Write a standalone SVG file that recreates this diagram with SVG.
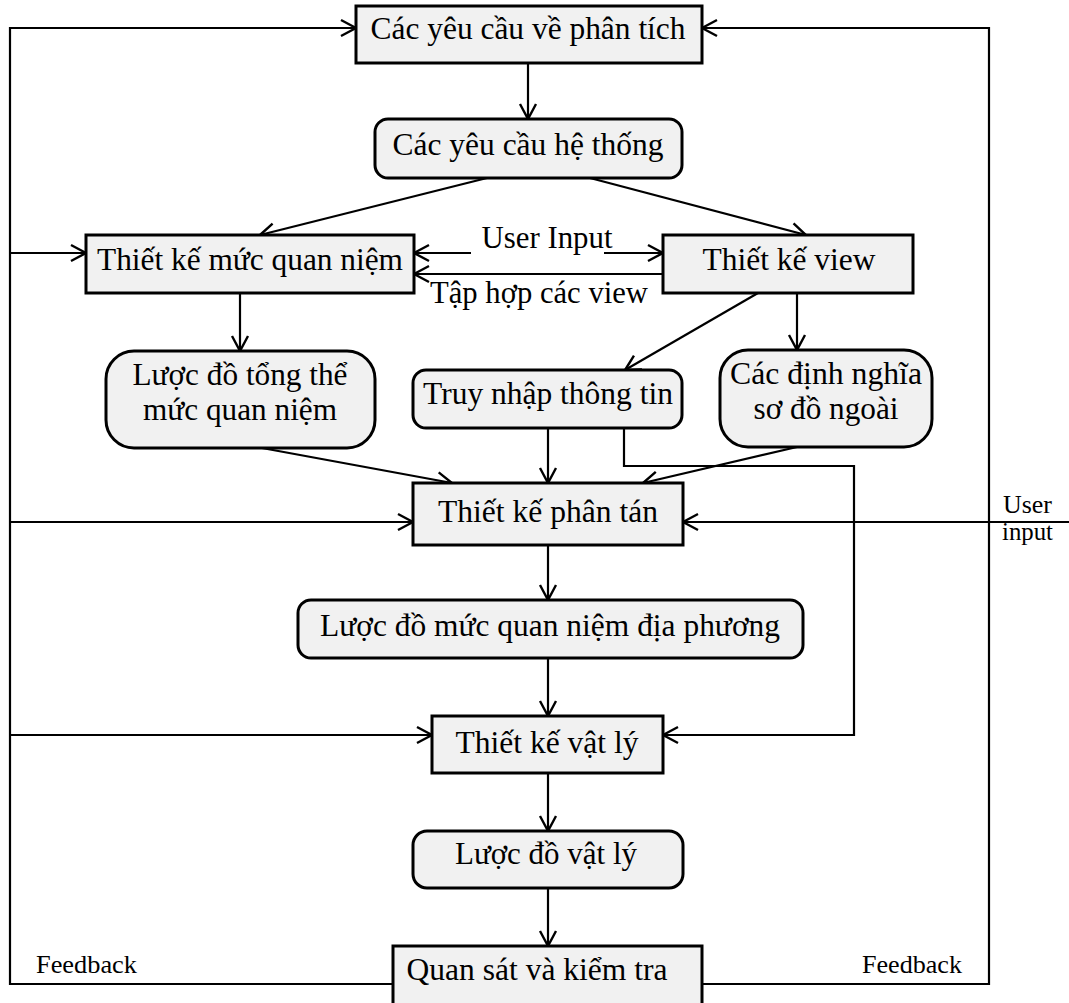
<svg xmlns="http://www.w3.org/2000/svg" width="1069" height="1003" viewBox="0 0 1069 1003">
  <style>
    .box { fill: #f1f1f1; stroke: #000; stroke-width: 3; }
    .lbl { font-family: "Liberation Serif", "DejaVu Serif", serif; font-size: 32px; fill: #000; text-anchor: middle; }
    .small { font-family: "Liberation Serif", "DejaVu Serif", serif; font-size: 25px; fill: #000; }
    .conn { fill: none; stroke: #000; stroke-width: 2.2; }
    .arr { marker-end: url(#head); }
  </style>
  <defs>
    <marker id="head" markerUnits="userSpaceOnUse" markerWidth="20" markerHeight="20" viewBox="0 0 20 20" refX="18" refY="10" orient="auto">
      <path d="M3,2 L18,10 L3,18" fill="none" stroke="#000" stroke-width="2.4"/>
    </marker>
  </defs>

  <rect width="1069" height="1003" fill="#fff"/>

  <!-- connectors -->
  <g id="connectors">
    <!-- feedback loop, left side -->
    <path class="conn arr" d="M393,984 L10,984 L10,28 L356,28"/>
    <path class="conn arr" d="M10,253 L86,253"/>
    <path class="conn arr" d="M10,522 L413,522"/>
    <path class="conn arr" d="M10,735 L432,735"/>
    <!-- feedback loop, right side -->
    <path class="conn arr" d="M702,984 L989,984 L989,28 L702,28"/>
    <!-- user input on the right -->
    <path class="conn arr" d="M1069,522 L683,522"/>

    <!-- main flow -->
    <path class="conn arr" d="M528,63 L528,119"/>
    <path class="conn arr" d="M487,178 L260,235"/>
    <path class="conn arr" d="M590,178 L806,235"/>
    <path class="conn arr" d="M240,293 L240,351"/>
    <path class="conn arr" d="M797,293 L797,350"/>
    <path class="conn arr" d="M758,293 L625,370"/>
    <path class="conn arr" d="M471,253 L414,253"/>
    <path class="conn arr" d="M604,253 L663,253"/>
    <path class="conn arr" d="M663,274 L414,274"/>
    <path class="conn arr" d="M262,448 L452,483"/>
    <path class="conn arr" d="M548,428 L548,483"/>
    <path class="conn arr" d="M797,447 L643,483"/>
    <path class="conn arr" d="M624,428 L624,466 L854,466 L854,735 L663,735"/>
    <path class="conn arr" d="M548,545 L548,600"/>
    <path class="conn arr" d="M548,658 L548,716"/>
    <path class="conn arr" d="M548,773 L548,831"/>
    <path class="conn arr" d="M548,888 L548,946"/>

    <!-- connector labels -->
    <text class="lbl" x="547" y="248" textLength="131" lengthAdjust="spacingAndGlyphs">User Input</text>
    <text class="lbl" x="539" y="303" textLength="218" lengthAdjust="spacingAndGlyphs">Tập hợp các view</text>
    <text class="small" x="36" y="973" textLength="101" lengthAdjust="spacingAndGlyphs">Feedback</text>
    <text class="small" x="862" y="973" textLength="100" lengthAdjust="spacingAndGlyphs">Feedback</text>
    <text class="small" x="1003" y="513" textLength="49" lengthAdjust="spacingAndGlyphs">User</text>
    <text class="small" x="1002" y="540" textLength="51" lengthAdjust="spacingAndGlyphs">input</text>
  </g>

  <!-- nodes -->
  <g id="yeu-cau-phan-tich">
    <rect class="box" x="356" y="6" width="346" height="57"/>
    <text class="lbl" x="528" y="39" textLength="315" lengthAdjust="spacingAndGlyphs">Các yêu cầu về phân tích</text>
  </g>
  <g id="yeu-cau-he-thong">
    <rect class="box" x="375" y="119" width="307" height="59" rx="13"/>
    <text class="lbl" x="528" y="155" textLength="271" lengthAdjust="spacingAndGlyphs">Các yêu cầu hệ thống</text>
  </g>
  <g id="thiet-ke-quan-niem">
    <rect class="box" x="86" y="235" width="328" height="58"/>
    <text class="lbl" x="250" y="270" textLength="306" lengthAdjust="spacingAndGlyphs">Thiết kế mức quan niệm</text>
  </g>
  <g id="thiet-ke-view">
    <rect class="box" x="663" y="235" width="250" height="58"/>
    <text class="lbl" x="789" y="270" textLength="173" lengthAdjust="spacingAndGlyphs">Thiết kế view</text>
  </g>
  <g id="luoc-do-tong-the">
    <rect class="box" x="106" y="351" width="269" height="97" rx="28"/>
    <text class="lbl" x="240" y="385" textLength="215" lengthAdjust="spacingAndGlyphs">Lược đồ tổng thể</text>
    <text class="lbl" x="240" y="420" textLength="194" lengthAdjust="spacingAndGlyphs">mức quan niệm</text>
  </g>
  <g id="truy-nhap">
    <rect class="box" x="413" y="370" width="269" height="58" rx="13"/>
    <text class="lbl" x="548" y="404" textLength="250" lengthAdjust="spacingAndGlyphs">Truy nhập thông tin</text>
  </g>
  <g id="dinh-nghia-ngoai">
    <rect class="box" x="720" y="350" width="212" height="97" rx="28"/>
    <text class="lbl" x="826" y="384" textLength="192" lengthAdjust="spacingAndGlyphs">Các định nghĩa</text>
    <text class="lbl" x="826" y="419" textLength="145" lengthAdjust="spacingAndGlyphs">sơ đồ ngoài</text>
  </g>
  <g id="thiet-ke-phan-tan">
    <rect class="box" x="413" y="483" width="270" height="62"/>
    <text class="lbl" x="548" y="522" textLength="220" lengthAdjust="spacingAndGlyphs">Thiết kế phân tán</text>
  </g>
  <g id="luoc-do-dia-phuong">
    <rect class="box" x="298" y="600" width="505" height="58" rx="13"/>
    <text class="lbl" x="550" y="636" textLength="460" lengthAdjust="spacingAndGlyphs">Lược đồ mức quan niệm địa phương</text>
  </g>
  <g id="thiet-ke-vat-ly">
    <rect class="box" x="432" y="716" width="231" height="57"/>
    <text class="lbl" x="547" y="753" textLength="183" lengthAdjust="spacingAndGlyphs">Thiết kế vật lý</text>
  </g>
  <g id="luoc-do-vat-ly">
    <rect class="box" x="413" y="831" width="270" height="57" rx="14"/>
    <text class="lbl" x="546" y="864" textLength="182" lengthAdjust="spacingAndGlyphs">Lược đồ vật lý</text>
  </g>
  <g id="quan-sat-kiem-tra">
    <rect class="box" x="393" y="946" width="309" height="70"/>
    <text class="lbl" x="537" y="980" textLength="261" lengthAdjust="spacingAndGlyphs">Quan sát và kiểm tra</text>
  </g>
</svg>
